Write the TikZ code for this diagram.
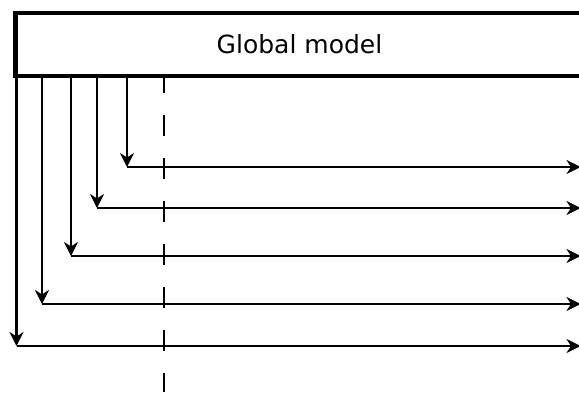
\documentclass[tikz,border=0pt]{standalone}
\usepackage{fontspec}
\setmainfont{DejaVu Sans}
\usetikzlibrary{arrows.meta}
\begin{document}
\begin{tikzpicture}[x=1pt,y=-1pt,
  model/.style={draw, line width=4.2pt, fill=white, minimum width=568pt, minimum height=63pt, inner sep=0pt, font=\fontsize{25}{30}\selectfont},
  flow/.style={-{Stealth[length=14pt,width=14pt,inset=4.5pt]}, line width=2.2pt},
  divider/.style={dash pattern=on 21pt off 22pt, line width=2.2pt}]
\useasboundingbox (0,0) rectangle (579,392);
\clip (0,0) rectangle (579,392);
\draw[divider] (164,72) -- (164,392);
\node[model] (gm) at (299.5,44.5) {Global model};
% top start points on the box bottom
\coordinate (t1) at (127,76);
\coordinate (t2) at (97,76);
\coordinate (t3) at (71,76);
\coordinate (t4) at (42,76);
\coordinate (t5) at (16.5,76);
% corners
\coordinate (c1) at (127,167);
\coordinate (c2) at (97,208);
\coordinate (c3) at (71,256);
\coordinate (c4) at (42,304);
\coordinate (c5) at (16.5,346);
% right ends (tips at the right margin)
\coordinate (e1) at (580.5,167);
\coordinate (e2) at (580.5,208);
\coordinate (e3) at (580.5,256);
\coordinate (e4) at (580.5,304);
\coordinate (e5) at (580.5,346);
\foreach \i in {1,...,5}{
  \draw[flow] (t\i) -- (c\i);
  \draw[flow] (c\i) -- (e\i);
}
\end{tikzpicture}
\end{document}
